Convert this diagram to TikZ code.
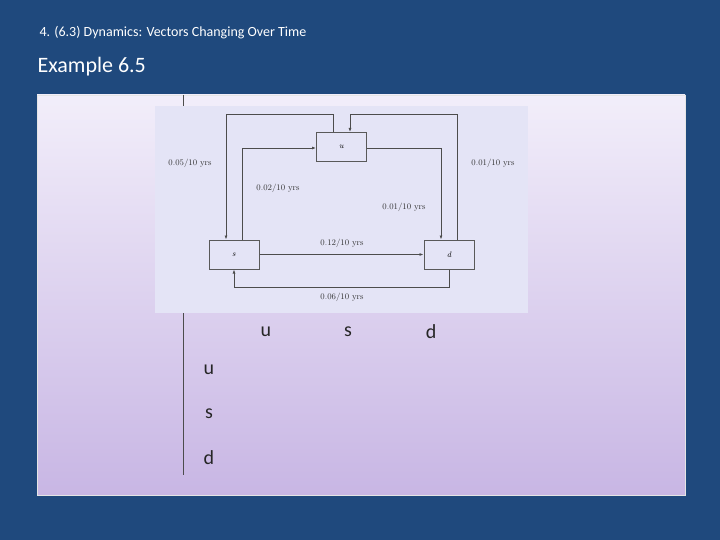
\documentclass[tikz,border=0pt]{standalone}
\usepackage{fontspec}
\setsansfont{Carlito}
\usetikzlibrary{arrows.meta}
\definecolor{bgblue}{RGB}{31,73,125}
\definecolor{ptop}{RGB}{242,238,250}
\definecolor{pbot}{RGB}{200,182,228}
\definecolor{dpanel}{RGB}{228,228,246}
\definecolor{boxfill}{RGB}{228,228,246}
\begin{document}
\begin{tikzpicture}[x=1pt,y=-1pt,
  stbox/.style={draw=gray!70!black,line width=1pt,fill=boxfill,minimum width=50pt,minimum height=29pt,inner sep=0pt,font=\fontsize{8}{9}\selectfont\itshape},
  lbl/.style={font=\fontsize{8.5}{10}\selectfont,inner sep=1pt,text=black!80},
  conn/.style={draw=black!70,line width=0.8pt,-{Latex[length=4pt,width=3pt]}},
  big/.style={font=\sffamily\fontsize{20}{22}\selectfont,text=black!85}]
\fill[bgblue] (0,0) rectangle (720,540);
\useasboundingbox (0,0) rectangle (720,540);
\shade[top color=ptop,bottom color=pbot,draw=white!80!gray] (37,95) rectangle (685,495);
\draw[black!70,line width=0.6pt] (183,95) -- (183,475);
\fill[dpanel] (155,106) rectangle (528,313);
\node[anchor=west,text=white,font=\sffamily\fontsize{14}{16}\selectfont] (title) at (36,33) {4. (6.3) Dynamics: Vectors Changing Over Time};
\node[anchor=west,text=white,font=\sffamily\fontsize{22}{24}\selectfont] (ex) at (34,67) {Example 6.5};
\node[stbox] (u) at (341.5,147) {u};
\node[stbox] (s) at (234,254.5) {s};
\node[stbox] (d) at (449,254.5) {d};
\coordinate (c1) at (242,148);
\draw[conn] (s.north -| c1) -- (c1) -- (u.west |- c1);
\coordinate (c2) at (333,114);
\coordinate (c3) at (226,114);
\draw[conn] (u.north -| c2) -- (c2) -- (c3) -- (s.north -| c3);
\coordinate (c4) at (457,114);
\coordinate (c5) at (350,114);
\draw[conn] (d.north -| c4) -- (c4) -- (c5) -- (u.north -| c5);
\coordinate (c6) at (441,148);
\draw[conn] (u.east |- c6) -- (c6) -- (d.north -| c6);
\draw[conn] (s.east) -- (d.west);
\coordinate (c7) at (449,287);
\coordinate (c8) at (234,287);
\draw[conn] (d.south) -- (c7) -- (c8) -- (s.south);
\node[lbl] (l1) at (190,163) {0.05/10 yrs};
\node[lbl] (l2) at (493,163) {0.01/10 yrs};
\node[lbl] (l3) at (278,188) {0.02/10 yrs};
\node[lbl] (l4) at (404,207) {0.01/10 yrs};
\node[lbl] (l5) at (342,243) {0.12/10 yrs};
\node[lbl] (l6) at (342,297) {0.06/10 yrs};
\node[big] (cu) at (266,332) {u};
\node[big] (cs) at (348,332) {s};
\node[big] (cd) at (431,332) {d};
\node[big] (ru) at (209,370) {u};
\node[big] (rs) at (209,414) {s};
\node[big] (rd) at (209,458) {d};
\end{tikzpicture}
\end{document}
